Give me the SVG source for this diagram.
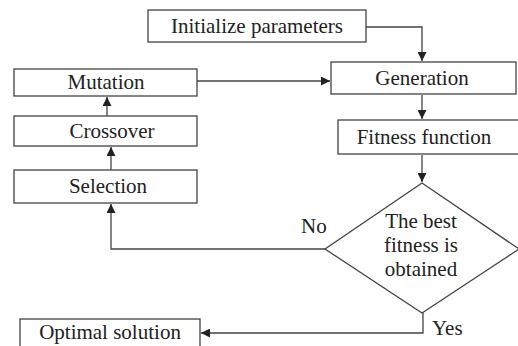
<svg xmlns="http://www.w3.org/2000/svg" width="518" height="346" viewBox="0 0 518 346">
<defs>
<style>
.box{fill:#fff;stroke:#444;stroke-width:1.3}
.t{font-family:"Liberation Serif","Times New Roman",serif;font-size:21px;fill:#222;text-anchor:middle}
.l{font-family:"Liberation Serif","Times New Roman",serif;font-size:21px;fill:#222}
.c{fill:none;stroke:#444;stroke-width:1.3}
</style>
<marker id="ah" viewBox="0 0 10 10" refX="10" refY="5" markerWidth="9" markerHeight="9" markerUnits="userSpaceOnUse" orient="auto">
<path d="M0,0 L10,5 L0,10 z" fill="#222"/>
</marker>
</defs>
<rect width="518" height="346" fill="#fff"/>
<g id="connectors">
<path class="c" d="M366,27 H422 V61" marker-end="url(#ah)"/>
<path class="c" d="M197,81 H330" marker-end="url(#ah)"/>
<path class="c" d="M422,95 V119" marker-end="url(#ah)"/>
<path class="c" d="M422,155 V182" marker-end="url(#ah)"/>
<path class="c" d="M107,116 V97" marker-end="url(#ah)"/>
<path class="c" d="M111,170 V147" marker-end="url(#ah)"/>
<path class="c" d="M325,249 H111 V204" marker-end="url(#ah)"/>
<path class="c" d="M423,313 V333 H201" marker-end="url(#ah)"/>
</g>
<g id="init"><rect class="box" x="148" y="10" width="218" height="32"/><text class="t" x="257" y="33">Initialize parameters</text></g>
<g id="generation"><rect class="box" x="331" y="62" width="185" height="32"/><text class="t" x="422" y="85">Generation</text></g>
<g id="fitness"><rect class="box" x="338" y="120" width="185" height="34"/><text class="t" x="424" y="144">Fitness function</text></g>
<g id="mutation"><rect class="box" x="14" y="69" width="183" height="27"/><text class="t" x="106" y="89">Mutation</text></g>
<g id="crossover"><rect class="box" x="14" y="116" width="183" height="30"/><text class="t" x="112" y="138">Crossover</text></g>
<g id="selection"><rect class="box" x="14" y="170" width="183" height="33"/><text class="t" x="108" y="193">Selection</text></g>
<g id="decision"><path class="box" d="M422,183 L519,249 L422,313 L325,249 z"/>
<text class="t" x="421" y="228">The best</text><text class="t" x="421" y="252">fitness is</text><text class="t" x="421" y="276">obtained</text></g>
<g id="optimal"><rect class="box" x="20" y="319" width="180" height="40"/><text class="t" x="110" y="339">Optimal solution</text></g>
<text class="l" x="301" y="233">No</text>
<text class="l" x="432" y="335">Yes</text>
</svg>
